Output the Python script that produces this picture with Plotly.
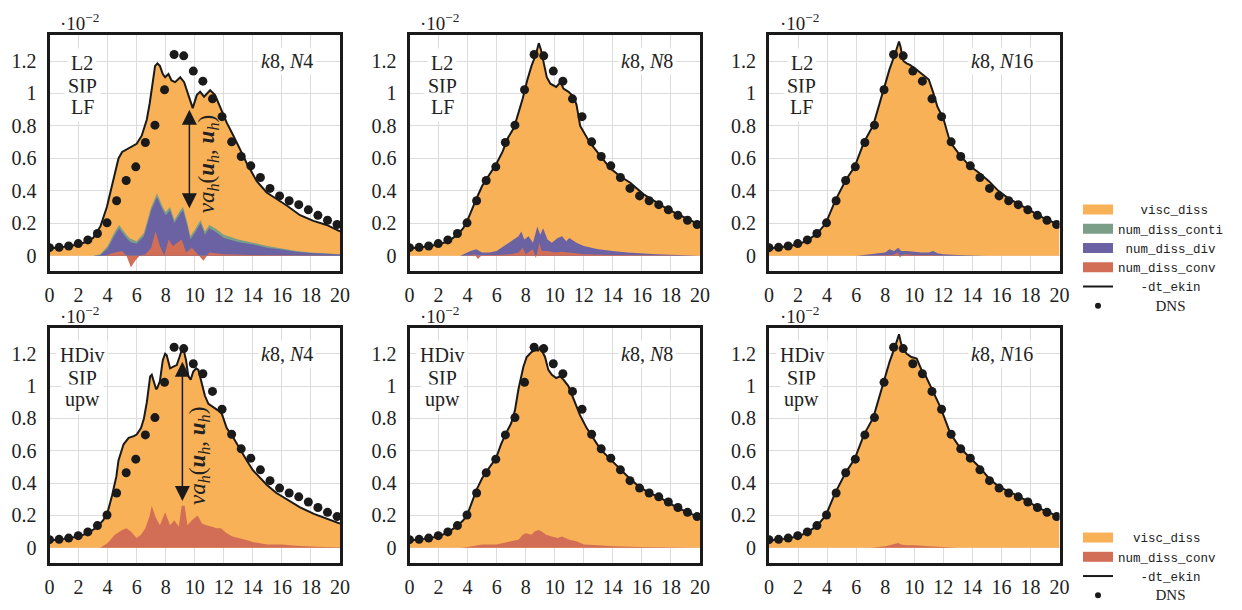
import plotly.graph_objects as go

# ---------------- data (values in units of 1e-2) ----------------
dns_t = [0, 0.66, 1.32, 1.98, 2.64, 3.3, 3.96, 4.62, 5.28, 5.94, 6.6, 7.26, 7.92, 8.58, 9.24,
         9.9, 10.56, 11.22, 11.88, 12.54, 13.2, 13.86, 14.52, 15.18, 15.84, 16.5, 17.16, 17.82,
         18.48, 19.14, 19.8]
dns_val = [0.05, 0.052, 0.06, 0.075, 0.098, 0.137, 0.203, 0.339, 0.464, 0.548, 0.698, 0.805,
           1.023, 1.24, 1.232, 1.138, 1.076, 0.967, 0.857, 0.702, 0.612, 0.554, 0.482, 0.415,
           0.369, 0.339, 0.315, 0.283, 0.249, 0.219, 0.193]

# L2 / SIP / LF, N4
t_l2n4 = [0, 1, 2, 2.5, 3, 3.5, 3.95, 4.4, 4.75, 5.0, 5.4, 5.8, 6.0, 6.35, 6.7, 6.9, 7.1, 7.27,
          7.43, 7.6, 7.8, 7.96, 8.19, 8.4, 8.65, 9.0, 9.27, 9.56, 9.86, 10.14, 10.37, 10.64,
          11.06, 11.4, 11.74, 12.2, 12.66, 13.12, 13.58, 14.27, 14.95, 15.64, 16.33, 17.25,
          18.17, 19.08, 20]
ekin_l2n4 = [0.045, 0.055, 0.07, 0.085, 0.11, 0.18, 0.30, 0.46, 0.60, 0.64, 0.66, 0.68, 0.69,
             0.74, 0.84, 0.94, 1.06, 1.17, 1.185, 1.17, 1.12, 1.10, 1.12, 1.08, 1.07, 1.10, 1.07,
             0.99, 0.91, 0.99, 1.01, 0.98, 1.02, 0.99, 0.92, 0.82, 0.74, 0.65, 0.57, 0.46, 0.39,
             0.35, 0.31, 0.25, 0.215, 0.19, 0.15]
tn_l2n4 = [0, 3.0, 3.5, 4.0, 4.5, 4.8, 5.2, 5.5, 5.7, 6.0, 6.5, 7.0, 7.4, 7.8, 8.0, 8.3, 8.6,
           9.0, 9.2, 9.5, 9.7, 10.0, 10.4, 10.7, 11.0, 11.4, 12.0, 13.0, 14.0, 15.0, 16.0,
           17.0, 18.0, 19.0, 20.0]
conti_l2n4 = [0, 0, 0.01, 0.06, 0.15, 0.19, 0.14, 0.11, 0.10, 0.09, 0.14, 0.30, 0.385, 0.30,
              0.27, 0.30, 0.22, 0.28, 0.30, 0.20, 0.12, 0.16, 0.22, 0.15, 0.19, 0.17, 0.13,
              0.10, 0.08, 0.06, 0.045, 0.03, 0.02, 0.015, 0.01]
div_l2n4 = [0, 0, 0.005, 0.045, 0.13, 0.17, 0.12, 0.09, 0.08, 0.075, 0.12, 0.28, 0.36, 0.28,
            0.25, 0.28, 0.20, 0.26, 0.28, 0.18, 0.10, 0.14, 0.20, 0.13, 0.17, 0.15, 0.11,
            0.085, 0.07, 0.05, 0.038, 0.025, 0.017, 0.012, 0.008]
tc_l2n4 = [0, 3.8, 4.5, 5.0, 5.3, 5.6, 5.9, 6.2, 6.6, 7.0, 7.3, 7.6, 7.9, 8.2, 8.5, 8.8, 9.1,
           9.4, 9.8, 10.1, 10.6, 11.0, 12.0, 14.0, 20.0]
conv_l2n4 = [0, 0, 0.02, 0.03, 0.0, -0.07, -0.03, 0.0, 0.01, 0.05, 0.15, 0.06, 0.0, 0.10,
             0.06, 0.08, 0.10, 0.02, 0.05, 0.02, -0.03, 0.02, 0.01, 0.005, 0]

# L2 / SIP / LF, N8
t_l2n8 = [0, 1, 2, 2.7, 3.3, 3.7, 4.0, 4.3, 4.6, 5.0, 5.5, 6.0, 6.4, 6.8, 7.2, 7.5, 7.8, 8.1,
          8.4, 8.7, 8.9, 9.05, 9.2, 9.45, 9.7, 10.1, 10.4, 10.6, 10.95, 11.3, 11.5, 11.75,
          12.4, 13.1, 13.8, 14.5, 15.2, 16.1, 16.8, 17.7, 18.6, 19.5, 20]
ekin_l2n8 = [0.045, 0.055, 0.07, 0.09, 0.13, 0.17, 0.22, 0.29, 0.35, 0.43, 0.50, 0.57, 0.64,
             0.73, 0.79, 0.88, 0.97, 1.08, 1.17, 1.24, 1.31, 1.27, 1.20, 1.10, 1.06, 1.04,
             1.07, 1.03, 1.01, 0.98, 0.93, 0.80, 0.70, 0.62, 0.54, 0.49, 0.45, 0.38, 0.34,
             0.29, 0.25, 0.21, 0.19]
tn_l2n8 = [0, 3.5, 4.2, 4.6, 5.0, 5.5, 6.0, 6.5, 7.0, 7.5, 7.7, 7.9, 8.2, 8.5, 8.8, 9.0, 9.2,
           9.5, 9.8, 10.2, 10.5, 10.8, 11.0, 11.5, 12.0, 13.0, 14.0, 15.0, 17.0, 20.0]
div_l2n8 = [0, 0, 0.03, 0.04, 0.02, 0.02, 0.03, 0.06, 0.09, 0.12, 0.15, 0.10, 0.12, 0.08,
            0.18, 0.13, 0.17, 0.10, 0.08, 0.11, 0.12, 0.09, 0.11, 0.08, 0.06, 0.04, 0.03,
            0.02, 0.01, 0.0]
tc_l2n8 = [0, 4.0, 4.5, 4.7, 5.0, 6.0, 7.0, 7.5, 7.8, 8.0, 8.3, 8.5, 8.7, 8.95, 9.1, 9.5,
           10.0, 10.5, 11.0, 12.0, 14.0, 20.0]
conv_l2n8 = [0, 0, 0.01, -0.02, 0.005, 0.005, 0.01, 0.02, 0.05, 0.01, 0.03, 0.04, -0.015,
             0.08, 0.03, 0.03, 0.02, 0.025, 0.02, 0.01, 0.005, 0]

# L2 / SIP / LF, N16
t_l2n16 = [0, 1, 2, 2.64, 3.3, 3.91, 4.56, 5.28, 5.9, 6.54, 7.18, 7.85, 8.3, 8.68, 8.85, 8.95,
           9.05, 9.14, 9.25, 9.48, 9.7, 10.17, 10.63, 11.0, 11.3, 11.6, 12.0, 12.47, 13.14,
           13.8, 14.48, 15.14, 15.79, 16.46, 17.1, 17.77, 18.4, 19.1, 19.77, 20]
ekin_l2n16 = [0.045, 0.055, 0.07, 0.095, 0.135, 0.20, 0.34, 0.465, 0.55, 0.70, 0.805, 1.02,
              1.15, 1.245, 1.29, 1.32, 1.29, 1.256, 1.20, 1.186, 1.176, 1.146, 1.112, 1.086,
              1.007, 0.917, 0.847, 0.70, 0.62, 0.554, 0.51, 0.46, 0.40, 0.355, 0.323, 0.29,
              0.255, 0.223, 0.20, 0.19]
tn_l2n16 = [0, 6.0, 7.0, 7.5, 8.0, 8.3, 8.6, 8.9, 9.1, 9.5, 10.0, 10.5, 11.0, 11.3, 11.6,
            12.0, 13.0, 15.0, 20.0]
div_l2n16 = [0, 0, 0.01, 0.015, 0.02, 0.04, 0.03, 0.05, 0.03, 0.03, 0.025, 0.02, 0.02, 0.03,
             0.015, 0.01, 0.005, 0, 0]
tc_l2n16 = [0, 7.0, 8.5, 8.9, 9.0, 9.3, 10.0, 11.0, 12.0, 20.0]
conv_l2n16 = [0, 0, 0.005, 0.02, -0.01, 0.01, 0.005, 0.005, 0, 0]

# HDiv / SIP / upw, N4
t_hd4 = [0, 1, 2, 2.64, 3.3, 3.7, 4.0, 4.3, 4.6, 4.75, 5.1, 5.45, 5.8, 6.0, 6.3, 6.5, 6.7,
         6.93, 7.04, 7.2, 7.34, 7.43, 7.6, 7.8, 7.96, 8.07, 8.3, 8.53, 8.76, 8.95, 9.1, 9.27,
         9.4, 9.56, 9.72, 9.9, 10.1, 10.25, 10.5, 10.7, 10.94, 11.3, 11.6, 11.86, 12.2, 12.66,
         13.1, 13.58, 14.0, 14.5, 14.95, 15.6, 16.3, 17.25, 18.2, 19.1, 20]
ekin_hd4 = [0.045, 0.055, 0.07, 0.09, 0.13, 0.17, 0.22, 0.32, 0.44, 0.54, 0.64, 0.68, 0.69,
            0.70, 0.74, 0.80, 0.90, 1.06, 1.07, 1.02, 0.98, 0.99, 1.03, 1.16, 1.20, 1.19,
            1.11, 1.12, 1.13, 1.18, 1.22, 1.21, 1.16, 1.06, 1.04, 1.09, 1.11, 1.10, 1.02,
            0.94, 0.89, 0.87, 0.85, 0.83, 0.74, 0.68, 0.61, 0.54, 0.48, 0.43, 0.39, 0.34,
            0.30, 0.25, 0.21, 0.18, 0.15]
tc_hd4 = [0, 3.5, 4.0, 4.5, 5.0, 5.3, 5.6, 6.0, 6.3, 6.6, 6.9, 7.04, 7.3, 7.6, 7.96, 8.3,
          8.6, 8.9, 9.1, 9.3, 9.5, 9.8, 10.2, 10.5, 10.8, 11.2, 11.5, 11.8, 12.2, 12.6, 13.0,
          13.5, 14.0, 15.0, 16.0, 17.0, 18.0, 19.0, 20.0]
conv_hd4 = [0, 0, 0.03, 0.08, 0.11, 0.12, 0.10, 0.06, 0.08, 0.12, 0.20, 0.26, 0.19, 0.14,
            0.22, 0.14, 0.17, 0.13, 0.26, 0.26, 0.14, 0.17, 0.20, 0.15, 0.14, 0.13, 0.12,
            0.12, 0.09, 0.07, 0.06, 0.05, 0.035, 0.02, 0.02, 0.012, 0.008, 0.005, 0.003]

# HDiv / SIP / upw, N8
t_hd8 = [0, 1, 2, 2.64, 3.3, 3.7, 3.96, 4.3, 4.62, 5.0, 5.28, 5.6, 5.94, 6.3, 6.6, 7.0, 7.26,
         7.5, 7.84, 8.07, 8.4, 8.65, 8.85, 9.0, 9.33, 9.56, 9.8, 10.1, 10.37, 10.6, 10.94,
         11.28, 11.74, 12.2, 12.48, 13.14, 13.8, 14.47, 15.14, 15.78, 16.5, 17.16, 17.82,
         18.48, 19.14, 19.8, 20]
ekin_hd8 = [0.045, 0.055, 0.07, 0.095, 0.135, 0.17, 0.20, 0.28, 0.36, 0.43, 0.47, 0.51, 0.55,
            0.64, 0.70, 0.77, 0.85, 0.98, 1.12, 1.18, 1.21, 1.225, 1.22, 1.24, 1.18, 1.10,
            1.07, 1.05, 1.06, 1.04, 1.00, 0.92, 0.82, 0.74, 0.70, 0.61, 0.55, 0.49, 0.43,
            0.38, 0.34, 0.315, 0.28, 0.245, 0.22, 0.19, 0.185]
tc_hd8 = [0, 3.5, 4.0, 5.0, 6.0, 7.0, 7.5, 7.8, 8.0, 8.4, 8.6, 8.9, 9.1, 9.4, 9.8, 10.2,
          10.5, 11.0, 11.5, 12.0, 13.0, 14.0, 16.0, 20.0]
conv_hd8 = [0, 0, 0.005, 0.02, 0.02, 0.04, 0.05, 0.08, 0.09, 0.08, 0.10, 0.11, 0.10, 0.08,
            0.07, 0.06, 0.07, 0.05, 0.04, 0.02, 0.015, 0.01, 0.005, 0]

# HDiv / SIP / upw, N16
t_hd16 = [0, 1, 2, 2.64, 3.3, 3.91, 4.56, 5.28, 5.9, 6.54, 7.18, 7.85, 8.3, 8.68, 8.85, 8.95,
          9.05, 9.2, 9.48, 9.8, 10.17, 10.5, 10.75, 11.1, 11.3, 11.8, 12.47, 13.14, 13.8,
          14.48, 15.14, 15.79, 16.46, 17.1, 17.77, 18.4, 19.1, 19.77, 20]
ekin_hd16 = [0.045, 0.055, 0.07, 0.095, 0.135, 0.20, 0.34, 0.465, 0.55, 0.70, 0.805, 1.02,
             1.15, 1.245, 1.29, 1.32, 1.28, 1.23, 1.20, 1.18, 1.17, 1.10, 1.07, 1.00, 0.97,
             0.87, 0.71, 0.62, 0.56, 0.50, 0.43, 0.38, 0.35, 0.32, 0.29, 0.255, 0.223, 0.20,
             0.19]
tc_hd16 = [0, 7.0, 8.0, 8.5, 8.9, 9.1, 9.5, 10.0, 11.0, 12.0, 13.0, 20.0]
conv_hd16 = [0, 0, 0.01, 0.02, 0.03, 0.02, 0.015, 0.015, 0.01, 0.005, 0, 0]

x_ticks = [0, 2, 4, 6, 8, 10, 12, 14, 16, 18, 20]
y_ticks = [0, 0.2, 0.4, 0.6, 0.8, 1.0, 1.2]
y_ticktext = ["0", "0.2", "0.4", "0.6", "0.8", "1", "1.2"]

# ---------------- style ----------------
W, H = 1242, 610
ORANGE = '#F9B157'
GREEN = '#7B9E88'
PURPLE = '#6A62A2'
RED = '#D26E55'
BLACK = '#1a1a1a'
SERIF = 'Liberation Serif'
MONO = 'Liberation Mono'
NB = '\u00a0'

x_px = [(49.5, 340.0), (409.5, 700.0), (769.0, 1059.5)]
y_px = [(36.0, 278.5), (336.7, 578.3)]

panels = [
    dict(r=0, c=0, t=t_l2n4, ekin=ekin_l2n4,
         layers=[(tn_l2n4, conti_l2n4, GREEN), (tn_l2n4, div_l2n4, PURPLE), (tc_l2n4, conv_l2n4, RED)],
         label=['L2', 'SIP', 'LF'], case='<i>k</i>8, <i>N</i>4',
         arrow=(9.63, 0.284, 0.90), atext=(10.92, 0.565)),
    dict(r=0, c=1, t=t_l2n8, ekin=ekin_l2n8,
         layers=[(tn_l2n8, div_l2n8, PURPLE), (tc_l2n8, conv_l2n8, RED)],
         label=['L2', 'SIP', 'LF'], case='<i>k</i>8, <i>N</i>8', arrow=None),
    dict(r=0, c=2, t=t_l2n16, ekin=ekin_l2n16,
         layers=[(tn_l2n16, div_l2n16, PURPLE), (tc_l2n16, conv_l2n16, RED)],
         label=['L2', 'SIP', 'LF'], case='<i>k</i>8, <i>N</i>16', arrow=None),
    dict(r=1, c=0, t=t_hd4, ekin=ekin_hd4,
         layers=[(tc_hd4, conv_hd4, RED)],
         label=['HDiv', 'SIP', 'upw'], case='<i>k</i>8, <i>N</i>4',
         arrow=(9.15, 0.28, 1.15), atext=(10.25, 0.57)),
    dict(r=1, c=1, t=t_hd8, ekin=ekin_hd8,
         layers=[(tc_hd8, conv_hd8, RED)],
         label=['HDiv', 'SIP', 'upw'], case='<i>k</i>8, <i>N</i>8', arrow=None),
    dict(r=1, c=2, t=t_hd16, ekin=ekin_hd16,
         layers=[(tc_hd16, conv_hd16, RED)],
         label=['HDiv', 'SIP', 'upw'], case='<i>k</i>8, <i>N</i>16', arrow=None),
]

fig = go.Figure()
layout = dict(width=W, height=H, margin=dict(l=0, r=0, t=0, b=0, pad=0),
              paper_bgcolor='white', plot_bgcolor='white', showlegend=True)
annotations = []

for i, p in enumerate(panels):
    k = '' if i == 0 else str(i + 1)
    xa, ya = 'x' + k, 'y' + k
    x0, x1 = x_px[p['c']]
    y0, y1 = y_px[p['r']]
    layout['xaxis' + k] = dict(
        domain=[x0 / W, x1 / W], range=[0, 20], anchor=ya,
        tickvals=x_ticks, showgrid=True, gridcolor='#dcdcdc', gridwidth=1,
        zeroline=False, showline=True, linecolor=BLACK, linewidth=3, mirror=True,
        ticks='outside', ticklen=4, tickcolor='rgba(0,0,0,0)',
        tickfont=dict(family=SERIF, size=20, color='#222'), automargin=False)
    layout['yaxis' + k] = dict(
        domain=[1 - y1 / H, 1 - y0 / H], range=[-0.095, 1.36], anchor=xa,
        tickvals=y_ticks, ticktext=y_ticktext, showgrid=True, gridcolor='#dcdcdc',
        gridwidth=1, zeroline=False, showline=True, linecolor=BLACK, linewidth=3,
        mirror=True, ticks='outside', ticklen=6, tickcolor='rgba(0,0,0,0)',
        tickfont=dict(family=SERIF, size=20, color='#222'), automargin=False)

    # visc_diss area (up to -dt_ekin)
    fig.add_trace(go.Scatter(x=p['t'], y=p['ekin'], xaxis=xa, yaxis=ya, mode='none',
                             fill='tozeroy', fillcolor=ORANGE, showlegend=False,
                             hoverinfo='skip'))
    for (tx, ty, col) in p['layers']:
        fig.add_trace(go.Scatter(x=tx, y=ty, xaxis=xa, yaxis=ya, mode='none',
                                 fill='tozeroy', fillcolor=col, showlegend=False,
                                 hoverinfo='skip'))
    fig.add_trace(go.Scatter(x=p['t'], y=p['ekin'], xaxis=xa, yaxis=ya, mode='lines',
                             line=dict(color=BLACK, width=2), showlegend=False))
    fig.add_trace(go.Scatter(x=dns_t, y=dns_val, xaxis=xa, yaxis=ya, mode='markers',
                             marker=dict(color=BLACK, size=9), showlegend=False))

    # label block
    for j, (txt, yy) in enumerate(zip(p['label'], [1.19, 1.048, 0.918])):
        annotations.append(dict(x=2.25, y=yy, xref=xa, yref=ya, text=txt, showarrow=False,
                                font=dict(family=SERIF, size=20, color='#222'),
                                bgcolor='white', borderpad=3, xanchor='center',
                                yanchor='middle'))
    annotations.append(dict(x=18.35, y=1.2, xref=xa, yref=ya, text=p['case'],
                            showarrow=False, font=dict(family=SERIF, size=20, color='#222'),
                            bgcolor='white', borderpad=2, xanchor='right', yanchor='middle'))
    annotations.append(dict(x=0.03, y=1.054, xref=xa + ' domain', yref=ya + ' domain',
                            text='·10<sup>−2</sup>', showarrow=False,
                            font=dict(family=SERIF, size=19, color='#222'),
                            xanchor='left', yanchor='middle'))
    if p['arrow']:
        ax_, ylo, yhi = p['arrow']
        annotations.append(dict(x=ax_, y=yhi, ax=ax_, ay=ylo, xref=xa, yref=ya,
                                axref=xa, ayref=ya, text='', showarrow=True, arrowhead=2,
                                arrowside='end+start', arrowsize=2.0, arrowwidth=1.5,
                                arrowcolor=BLACK, standoff=0, startstandoff=0))
        tx_, ty_ = p['atext']
        annotations.append(dict(x=tx_, y=ty_, xref=xa, yref=ya, textangle=-90,
                                text='<i>νa</i><sub><i>h</i></sub>(<b><i>u</i></b><sub><i>h</i></sub>, '
                                     '<b><i>u</i></b><sub><i>h</i></sub>)',
                                showarrow=False, font=dict(family=SERIF, size=23, color='#222')))

# legend entries (legend-only traces)
def leg_fill(name, col, lg):
    fig.add_trace(go.Scatter(x=[None], y=[None], mode='lines', name=name,
                             line=dict(color=col, width=10), legend=lg))

def leg_line(name, lg):
    fig.add_trace(go.Scatter(x=[None], y=[None], mode='lines', name=name,
                             line=dict(color=BLACK, width=2), legend=lg))

def leg_dot(name, lg):
    fig.add_trace(go.Scatter(x=[None], y=[None], mode='markers', name=name,
                             marker=dict(color=BLACK, size=6), legend=lg))

dns_label = NB * 5 + '<span style="font-family:Liberation Serif;font-size:15px">DNS</span>'
leg_fill(NB * 3 + 'visc_diss', ORANGE, 'legend')
leg_fill('num_diss_conti', GREEN, 'legend')
leg_fill(NB + 'num_diss_div', PURPLE, 'legend')
leg_fill('num_diss_conv', RED, 'legend')
leg_line(NB * 3 + '-dt_ekin', 'legend')
leg_dot(dns_label, 'legend')

leg_fill(NB * 2 + 'visc_diss', ORANGE, 'legend2')
leg_fill('num_diss_conv', RED, 'legend2')
leg_line(NB * 3 + '-dt_ekin', 'legend2')
leg_dot(dns_label, 'legend2')

leg_common = dict(xanchor='left', yanchor='top', bgcolor='rgba(0,0,0,0)', borderwidth=0,
                  font=dict(family=MONO, size=12.5, color='#222'), itemwidth=30,
                  tracegroupgap=0, traceorder='normal')
layout['legend'] = dict(x=1078 / W, y=1 - 200 / H, **leg_common)
layout['legend2'] = dict(x=1078 / W, y=1 - 537 / H, **leg_common)
layout['annotations'] = annotations

fig.update_layout(**layout)
fig.write_html('out.html')
